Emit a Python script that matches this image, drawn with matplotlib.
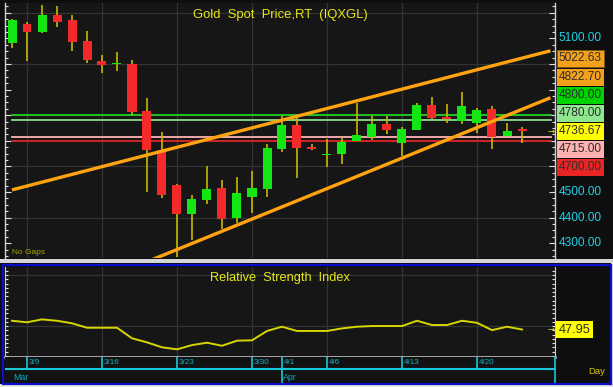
import matplotlib
matplotlib.use("Agg")
import matplotlib.pyplot as plt
from matplotlib.patches import Rectangle
from matplotlib.ticker import MultipleLocator, NullFormatter
from matplotlib.transforms import blended_transform_factory

plt.rcParams['font.family'] = ['Liberation Sans', 'DejaVu Sans']

# ---------------- data ----------------
dates = ['3/6', '3/9', '3/10', '3/11', '3/12', '3/13', '3/16', '3/17', '3/18', '3/19',
         '3/20', '3/23', '3/24', '3/25', '3/26', '3/27', '3/30', '3/31', '4/1', '4/2',
         '4/3', '4/6', '4/7', '4/8', '4/9', '4/10', '4/13', '4/14', '4/15', '4/16',
         '4/17', '4/20', '4/21', '4/22', '4/23']
opens = [5082, 5156, 5125, 5191, 5172, 5090, 5012, 4998, 5000, 4816,
         4664, 4527, 4414, 4469, 4516, 4398, 4480, 4512, 4668, 4762,
         4676, 4646, 4648, 4699, 4715, 4766, 4691, 4742, 4840, 4793,
         4777, 4770, 4824, 4719, 4745]
highs = [5176, 5164, 5230, 5227, 5191, 5129, 5035, 5047, 5016, 4867,
         4734, 4530, 4488, 4602, 4547, 4559, 4582, 4688, 4797, 4793,
         4688, 4707, 4715, 4848, 4797, 4797, 4754, 4848, 4871, 4844,
         4891, 4828, 4836, 4770, 4754]
lows = [5062, 5012, 5121, 5144, 5051, 5004, 4965, 4973, 4801, 4500,
        4477, 4246, 4313, 4453, 4355, 4379, 4418, 4480, 4656, 4555,
        4664, 4598, 4609, 4699, 4703, 4727, 4641, 4742, 4785, 4770,
        4766, 4730, 4668, 4719, 4691]
closes = [5172, 5125, 5191, 5164, 5086, 5016, 4996, 5002, 4812, 4664,
          4488, 4414, 4473, 4512, 4395, 4496, 4516, 4672, 4762, 4672,
          4668, 4650, 4695, 4723, 4766, 4742, 4746, 4840, 4789, 4785,
          4836, 4820, 4715, 4738, 4736.67]
rsi = [53.1, 52.2, 53.9, 53.1, 51.6, 49.0, 49.0, 49.0, 42.8, 40.4,
       37.5, 36.3, 38.8, 40.2, 38.4, 41.4, 41.6, 47.1, 49.6, 47.1,
       47.1, 47.1, 48.6, 49.6, 50.0, 50.0, 50.0, 53.1, 50.6, 50.6,
       53.1, 51.9, 47.6, 49.6, 47.95]

title = "Gold  Spot  Price,RT  (IQXGL)"
rsi_title = "Relative  Strength  Index"
last_price = 4736.67
last_rsi = 47.95

upper_dates = ['3/6', '4/23']
upper_values = [4508.0, 5022.63]
lower_dates = ['3/23', '4/23']
lower_values = [4275.0, 4822.70]

level_values = [4800.00, 4780.00, 4715.00, 4700.00]
level_line_colors = ['#22d022', '#8cdc8c', '#ffb4b4', '#e02626']
level_box_colors = ['#00d400', '#8fe88f', '#ffb0b0', '#e82424']

axis_labels = [5100, 4500, 4400, 4300]
date_ticks = ['3/9', '3/16', '3/23', '3/30', '4/1', '4/6', '4/13', '4/20']
grid_dates = ['3/9', '3/16', '3/23', '3/30', '4/6', '4/13', '4/20']
months = ['Mar', 'Apr']
month_dates = ['3/6', '4/1']

# ---------------- styling ----------------
FIG_BG = '#0e0e0e'
PLOT_BG = '#161616'
GRID = '#343434'
UP = '#14e614'
DOWN = '#f42a2a'
WICK = '#c8b800'
ORANGE = '#ffa310'
YELLOW = '#e8e816'
CYAN = '#22d0e6'
LBL = 8.6

W, H = 613, 387
fig = plt.figure(figsize=(W / 100, H / 100), dpi=100, facecolor=FIG_BG)

def frac(x0, y0, x1, y1):
    return [x0 / W, 1 - y1 / H, (x1 - x0) / W, (y1 - y0) / H]

L, R = 5, 555
ax = fig.add_axes(frac(L, 3, R, 258), facecolor=PLOT_BG)
ax2 = fig.add_axes(frac(L, 267, R, 357), facecolor=PLOT_BG)
ax3 = fig.add_axes(frac(L, 357, R, 383), facecolor='#121212')

x = list(range(len(dates)))
pos = {d: i for i, d in enumerate(dates)}
xmin = (L - 12) / 15
xmax = (R - 12) / 15
x_end = xmax - 0.3

# ---- main panel ----
ax.set_xlim(xmin, xmax)
ax.set_ylim(4242, 5238)
for d in grid_dates:
    ax.axvline(pos[d], color=GRID, lw=0.9, zorder=0)
for yv in range(4400, 5300, 200):
    ax.axhline(yv, color=GRID, lw=0.9, zorder=0)

for v, c in zip(level_values, level_line_colors):
    ax.plot([0, x_end], [v, v], color=c, lw=1.3, zorder=2)

ax.vlines(x, lows, highs, color=WICK, lw=1.2, zorder=3)
bottoms = [min(o, c) for o, c in zip(opens, closes)]
heights = [max(abs(c - o), 3) for o, c in zip(opens, closes)]
colors = [UP if c >= o else DOWN for o, c in zip(opens, closes)]
ax.bar(x, heights, bottom=bottoms, width=0.6, color=colors, lw=0, zorder=4)

def channel(ds, vs):
    x0, x1 = pos[ds[0]], pos[ds[1]]
    slope = (vs[1] - vs[0]) / (x1 - x0)
    return slope, x0, vs[0]

s_u, xu, vu = channel(upper_dates, upper_values)
ax.plot([0, x_end], [vu + s_u * (0 - xu), vu + s_u * (x_end - xu)], color=ORANGE, lw=2.4, zorder=5, solid_capstyle='butt')
s_l, xl, vl = channel(lower_dates, lower_values)
ax.plot([0, x_end], [vl + s_l * (0 - xl), vl + s_l * (x_end - xl)], color=ORANGE, lw=2.4, zorder=5, solid_capstyle='butt')

ax.text(0.5, 0.953, title, transform=ax.transAxes, ha='center', va='center', color=YELLOW, fontsize=9.4)
ax.text(0.013, 0.022, "No Gaps", transform=ax.transAxes, ha='left', va='center', color='#a8a800', fontsize=6)

for sp in ['top', 'bottom']:
    ax.spines[sp].set_visible(False)
for sp in ['left', 'right']:
    ax.spines[sp].set_color('#d0d0d0')
    ax.spines[sp].set_linewidth(1)
ax.set_xticks([])
ax.yaxis.set_major_locator(MultipleLocator(100))
ax.yaxis.set_minor_locator(MultipleLocator(25))
ax.yaxis.set_major_formatter(NullFormatter())
ax.tick_params(axis='y', which='both', direction='in', left=True, right=True, color='#e0e0e0', width=0.8)
ax.tick_params(axis='y', which='major', length=4)
ax.tick_params(axis='y', which='minor', length=2.5)

trans = blended_transform_factory(ax.transAxes, ax.transData)
for v in axis_labels:
    ax.text(1.006, v, f"{v:.2f}", transform=trans, ha='left', va='center', color=CYAN, fontsize=LBL, clip_on=False)

box_kw = dict(ha='left', va='center', fontsize=LBL, color='#2e2e2e', annotation_clip=False)
bstyle = 'square,pad=0.2'
upper_end = upper_values[1]
ax.annotate(f"{upper_end:.2f}", xy=(1, upper_end), xycoords=trans, xytext=(2.8, 0), textcoords='offset points',
            bbox=dict(boxstyle=bstyle, fc='#f5a01a', ec='#7a5a10', lw=0.5), **box_kw)

stack = [(lower_values[1], '#f5a01a')] + list(zip(level_values, level_box_colors)) + [(last_price, '#ffff00')]
stack.sort(key=lambda t: -t[0])
anchor = [s[0] for s in stack].index(last_price)
for k, (v, fc) in enumerate(stack):
    dy = (anchor - k) * 18 * 0.72
    ax.annotate(f"{v:.2f}", xy=(1, last_price), xycoords=trans, xytext=(2.8, dy), textcoords='offset points',
                bbox=dict(boxstyle=bstyle, fc=fc, ec='none'), **box_kw)
ax.text(0.9985, last_price, "→", transform=trans, ha='right', va='center', color=YELLOW, fontsize=6, family='DejaVu Sans')

# ---- RSI panel ----
ax2.set_xlim(xmin, xmax)
ax2.set_ylim(31.8, 84.7)
for d in grid_dates:
    ax2.axvline(pos[d], color=GRID, lw=0.9, zorder=0)
for yv in [50, 80]:
    ax2.axhline(yv, color=GRID, lw=0.9, zorder=0)
ax2.plot(x, rsi, color='#d6d600', lw=1.4, zorder=3)
ax2.text(0.5, 0.878, rsi_title, transform=ax2.transAxes, ha='center', va='center', color=YELLOW, fontsize=9.2)
ax2.spines['top'].set_visible(False)
for sp in ['left', 'right', 'bottom']:
    ax2.spines[sp].set_color('#d0d0d0')
ax2.spines['bottom'].set_linewidth(1.8)
ax2.set_xticks([])
ax2.yaxis.set_major_locator(MultipleLocator(10))
ax2.yaxis.set_minor_locator(MultipleLocator(2.5))
ax2.yaxis.set_major_formatter(NullFormatter())
ax2.tick_params(axis='y', which='both', direction='in', left=True, right=True, color='#e0e0e0', width=0.8, length=2.5)
trans2 = blended_transform_factory(ax2.transAxes, ax2.transData)
ax2.annotate(f"{last_rsi:.2f}", xy=(1, last_rsi), xycoords=trans2, xytext=(2.8, 0), textcoords='offset points',
             bbox=dict(boxstyle=bstyle, fc='#ffff00', ec='none'), **dict(box_kw, fontsize=9.2))
ax2.text(0.9985, last_rsi, "→", transform=trans2, ha='right', va='center', color=YELLOW, fontsize=6, family='DejaVu Sans')

# ---- date strip ----
ax3.set_xlim(xmin, xmax)
ax3.set_ylim(0, 1)
ax3.set_xticks([])
ax3.set_yticks([])
for sp in ['top', 'left', 'bottom']:
    ax3.spines[sp].set_visible(False)
ax3.spines['right'].set_color('#18c8d8')
ax3.spines['right'].set_linewidth(1.2)
ax3.axhline(0.54, color='#18c8d8', lw=1.5)
for d in date_ticks:
    top = 0.0 if d == '4/1' else 0.54
    ax3.plot([pos[d], pos[d]], [top, 1], color='#18c8d8', lw=1.2)
    ax3.annotate(d, xy=(pos[d], 0.77), xytext=(1.0, 0), textcoords='offset points', ha='left', va='center',
                 color='#10b4c4', fontsize=5.8)
for m, d in zip(months, month_dates):
    ax3.annotate(m, xy=(pos[d], 0.22), xytext=(1.0, 0), textcoords='offset points', ha='left', va='center',
                 color='#10a8b8', fontsize=6.3)
fig.text(597 / W, 1 - 372 / H, "Day", ha='center', va='center', color='#d8c800', fontsize=6.8)

# ---- frames ----
fig.add_artist(Rectangle((0, 1 - 263 / H), 1, 4 / H, transform=fig.transFigure, fc='#d6d6d6', ec='none'))
fig.add_artist(Rectangle((0, 0), 1, 3.5 / H, transform=fig.transFigure, fc='#e4e4e4', ec='none'))
fig.add_artist(Rectangle((611 / W, 0), 2 / W, 1 - 263 / H, transform=fig.transFigure, fc='#e4e4e4', ec='none'))
fig.add_artist(Rectangle((2.5 / W, 1 - 383.5 / H), 608 / W, 118.5 / H, transform=fig.transFigure,
                         fc='none', ec='#0a10c8', lw=1.6))

fig.savefig("out.png", dpi=100, facecolor=FIG_BG)
